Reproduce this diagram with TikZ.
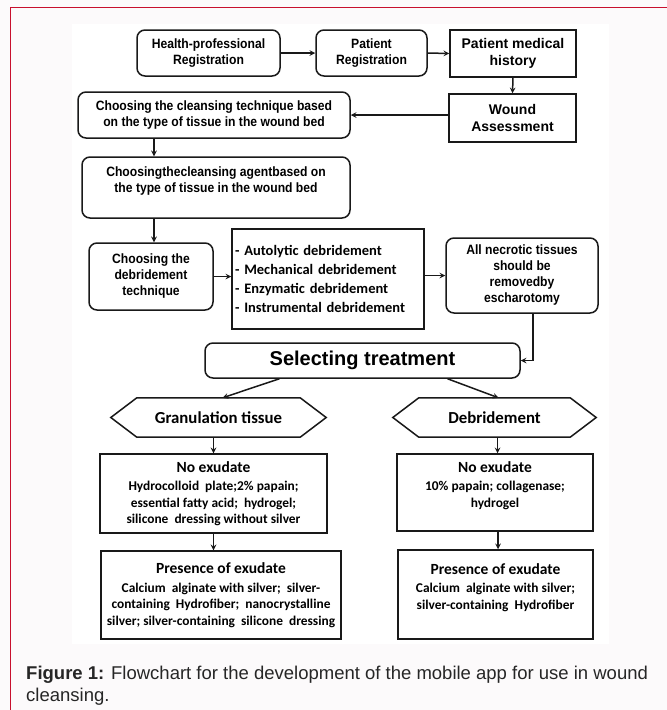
\documentclass[tikz,border=0pt]{standalone}
\usepackage{fontspec}
\setmainfont{Liberation Sans}
\newfontfamily\narrowfont[FakeStretch=0.9]{Liberation Sans}
\newfontfamily\calfont{Carlito}
\definecolor{crimson}{HTML}{C8102E}
\definecolor{pagebg}{HTML}{FCFAFB}
\tikzset{
  box/.style={draw=black!90, line width=1.5pt, align=center, inner sep=2pt, text=black},
  rbox/.style={box, rounded corners=8pt},
  narrow/.style={font=\narrowfont\bfseries\fontsize{13.5}{16}\selectfont},
  wide/.style={font=\bfseries\fontsize{14}{17}\selectfont},
  cal/.style={font=\calfont\bfseries\fontsize{13.4}{16.5}\selectfont},
  hexline/.style={draw=black!90, line width=1.5pt},
  arr/.style={-stealth, line width=1.5pt, black!90}
}
\begin{document}
\begin{tikzpicture}[x=1pt,y=-1pt]
            \fill[pagebg] (0,0) rectangle (667,710);
            \useasboundingbox (0,0) rectangle (667,710);
            \fill[white] (72,24) rectangle (609,644);
            \draw[crimson, line width=1.5pt] (10.5,710) -- (10.5,7.5) -- (667,7.5);
            % top row
            \node[rbox, narrow, minimum width=143, minimum height=46](health) at (208.5,53){Health-professional\\Registration};
            \node[rbox, narrow, minimum width=111, minimum height=46](patreg) at (371.5,53){Patient\\Registration};
            \node[box, wide, minimum width=126, minimum height=47](history) at (513,53.5){Patient medical\\history};
            \node[box, wide, minimum width=127, minimum height=48](wound) at (512.5,118){Wound\\Assessment};
            \node[rbox, narrow, minimum width=272, minimum height=46](technique) at (214,115){Choosing the cleansing technique based\\on the type of tissue in the wound bed};
            \node[rbox, narrow, minimum width=268, minimum height=61](agent) at (216,187.5){Choosingthecleansing agentbased on\\the type of tissue in the wound bed\\\mbox{}};
            % debridement row
            \node[rbox, narrow, minimum width=124, minimum height=67](debtech) at (151,276.5){Choosing the\\debridement\\technique};
            \node[box, align=left, text width=186, minimum height=100, inner sep=3pt,
                  font=\calfont\bfseries\fontsize{14.5}{18.7}\selectfont](methods) at (328,279){- Autolytic debridement\\- Mechanical debridement\\- Enzymatic debridement\\- Instrumental debridement};
            \node[rbox, narrow, minimum width=152, minimum height=75](necrotic) at (522,275.5){All necrotic tissues\\should be\\removedby\\escharotomy};
            \node[rbox, minimum width=315, minimum height=35, font=\bfseries\fontsize{20}{22}\selectfont](select) at (362.5,360.5){Selecting treatment};
            % branches
            \node[font=\calfont\bfseries\fontsize{16.8}{18}\selectfont, minimum width=163, minimum height=39](gran) at (218.5,417.5){Granulation tissue};
            \draw[hexline] (gran.north west) -- (gran.north east) -- ([xshift=26pt]gran.east) -- (gran.south east) -- (gran.south west) -- ([xshift=-26pt]gran.west) -- cycle;
            \node[font=\calfont\bfseries\fontsize{16.8}{18}\selectfont, minimum width=151, minimum height=39](debr) at (494.5,417.5){Debridement};
            \draw[hexline] (debr.north west) -- (debr.north east) -- ([xshift=26pt]debr.east) -- (debr.south east) -- (debr.south west) -- ([xshift=-26pt]debr.west) -- cycle;
            \node[box, cal, minimum width=227, minimum height=79](noex1) at (213.5,493.5){{\fontsize{15.5}{16}\selectfont No exudate}\\[2pt]Hydrocolloid\ \ plate;2\% papain;\\essential fatty acid;\ \ hydrogel;\\silicone\ \ dressing without silver};
            \node[box, cal, minimum width=196, minimum height=77](noex2) at (495,492.5){{\fontsize{15.5}{16}\selectfont No exudate}\\[2pt]10\% papain; collagenase;\\hydrogel\\\mbox{}};
            \node[box, cal, minimum width=240, minimum height=88](pres1) at (221,595){{\fontsize{15.5}{16}\selectfont Presence of exudate}\\[2pt]Calcium\ \ alginate with silver;\ \ silver-\\containing\ \ Hydrofiber;\ \ nanocrystalline\\silver; silver-containing\ \ silicone\ \ dressing};
            \node[box, cal, minimum width=195, minimum height=89](pres2) at (495.5,594.5){{\fontsize{15.5}{16}\selectfont Presence of exudate}\\[2pt]Calcium\ \ alginate with silver;\\silver-containing\ \ Hydrofiber\\\mbox{}};
            % caption
            \node[anchor=north west, align=left, inner sep=0pt, font=\fontsize{18.5}{21.5}\selectfont, text=black!85](caption) at (26,666){\textbf{Figure 1:} Flowchart for the development of the mobile app for use in wound\\cleansing.};
            % connectors
            \draw[arr] (health.east) -- (patreg.west);
            \draw[arr] (patreg.east) -- (history.west);
            \draw[arr] (history.south) -- (wound.north);
            \draw[arr] (wound.west |- technique.east) -- (technique.east);
            \draw[arr] ([xshift=3pt]debtech.north |- technique.south) -- ([xshift=3pt]debtech.north |- agent.north);
            \draw[arr] ([xshift=3pt]debtech.north |- agent.south) -- ([xshift=3pt]debtech.north);
            \draw[arr] (debtech.east) -- (methods.west |- debtech.east);
            \draw[arr] (methods.east |- necrotic.west) -- (necrotic.west);
            \draw[arr] ([xshift=11pt]necrotic.south) |- (select.east);
            \draw[arr] ([xshift=-83pt]select.south) -- ([xshift=4pt]gran.north);
            \draw[arr] ([xshift=85pt]select.south) -- ([xshift=4pt]debr.north);
            \draw[arr] (noex1.north |- gran.south) -- (noex1.north);
            \draw[arr] ([xshift=3pt]debr.south) -- ([xshift=3pt]debr.south |- noex2.north);
            \draw[arr] (noex1.south) -- (noex1.south |- pres1.north);
            \draw[arr] ([xshift=3pt]noex2.south) -- ([xshift=3pt]noex2.south |- pres2.north);
        \end{tikzpicture}
\end{document}
